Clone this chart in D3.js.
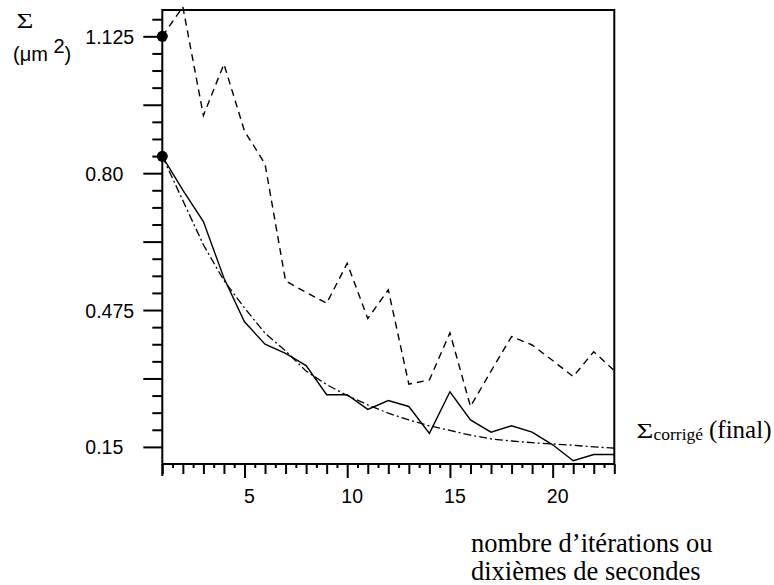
<!DOCTYPE html>
<html><head><meta charset="utf-8">
<script src="https://cdn.jsdelivr.net/npm/d3@7/dist/d3.min.js"></script>
<style>body{margin:0;background:#fff}svg{display:block}</style>
</head><body><svg id="c" width="774" height="585"></svg>
<script>
// ---- data ----
const iterations = [1,2,3,4,5,6,7,8,9,10,11,12,13,14,15,16,17,18,19,20,21,22,23];
const sigmaDashed = [1.125,1.195,0.937,1.059,0.900,0.822,0.544,0.517,0.491,0.586,0.455,0.523,0.299,0.309,0.421,0.246,0.330,0.412,0.392,0.355,0.317,0.376,0.331];
const sigmaSolid  = [0.840,0.760,0.685,0.551,0.447,0.394,0.372,0.343,0.274,0.274,0.239,0.260,0.246,0.182,0.281,0.214,0.185,0.200,0.185,0.155,0.117,0.132,0.132];
const sigmaFit    = [0.840,0.735,0.630,0.545,0.480,0.420,0.378,0.330,0.298,0.272,0.250,0.230,0.214,0.200,0.189,0.178,0.169,0.164,0.160,0.157,0.154,0.150,0.147];
const startDots = [1.125, 0.840];
const yTickValues = [0.15, 0.475, 0.80, 1.125];
const yTickLabels = ["0.15", "0.475", "0.80", "1.125"];
const xTickLabels = [5, 10, 15, 20];

// ---- layout ----
const svg = d3.select("#c");
svg.append("rect").attr("width",774).attr("height",585).attr("fill","#fff");
const x = d3.scaleLinear().domain([1,23]).range([162.3,614.3]);
const y = d3.scaleLinear().domain([0.109375,1.1875]).range([464,10]);
const sans = "'Liberation Sans', Arial, Helvetica, sans-serif";
const serif = "'Liberation Serif', 'Times New Roman', Times, serif";

// y minor / long ticks
const yStep = 0.040625;
const yAll = d3.range(1,27).map(k => 0.109375 + k*yStep);
const isLong = v => Math.abs(((v-0.15)/0.1625) - Math.round((v-0.15)/0.1625)) < 1e-6;
const yMinor = yAll.filter(v => !isLong(v));
const yLong = yAll.filter(v => isLong(v));

function styleAxis(g){
  g.select(".domain").remove();
  g.selectAll(".tick line").attr("stroke","#000").attr("stroke-width",2);
}
svg.append("g").attr("transform","translate(162.3,0)")
  .call(d3.axisLeft(y).tickValues(yMinor).tickSize(10).tickFormat(""))
  .call(styleAxis);
const yMaj = svg.append("g").attr("transform","translate(162.3,0)")
  .call(d3.axisLeft(y).tickValues(yLong).tickSize(19)
    .tickFormat(v => { const i = yTickValues.findIndex(t => Math.abs(t-v)<1e-6); return i>=0 ? yTickLabels[i] : ""; }))
  .call(styleAxis);
yMaj.selectAll("text").attr("x",-77).attr("dy",null).attr("y",7)
  .attr("text-anchor","start").attr("font-family",sans).attr("font-size",19.5).attr("fill","#000");

// x ticks
const xHalf = d3.range(1.5,23,1);
const xInt = iterations.filter(v => v%5 !== 0);
svg.append("g").attr("transform","translate(0,464)")
  .call(d3.axisBottom(x).tickValues(xHalf).tickSize(4).tickFormat("")).call(styleAxis);
svg.append("g").attr("transform","translate(0,464)")
  .call(d3.axisBottom(x).tickValues(xInt).tickSize(10).tickFormat("")).call(styleAxis);
const xMaj = svg.append("g").attr("transform","translate(0,464)")
  .call(d3.axisBottom(x).tickValues(xTickLabels).tickSize(14).tickFormat(d3.format("d")))
  .call(styleAxis);
xMaj.selectAll("text").attr("y",39).attr("dy",null).attr("x",4.5)
  .attr("font-family",sans).attr("font-size",19.5).attr("fill","#000");

// frame
const frame = svg.append("g").attr("stroke","#000").attr("stroke-width",2).attr("fill","none");
frame.append("path").attr("d",`M${x(1)},${y(1.1875)}V464H${x(23)}V${y(1.1875)}Z`).attr("stroke-linecap","square");
frame.append("line").attr("x1",x(1)).attr("x2",x(1)).attr("y1",464).attr("y2",476);

// lines
const line = ys => d3.line().x((d,i)=>x(iterations[i])).y(d=>y(d))(ys);
svg.append("path").attr("d",line(sigmaDashed)).attr("fill","none").attr("stroke","#000")
  .attr("stroke-width",1.4).attr("stroke-dasharray","7,5");
svg.append("path").attr("d",line(sigmaSolid)).attr("fill","none").attr("stroke","#000")
  .attr("stroke-width",1.4);
svg.append("path").attr("d",line(sigmaFit)).attr("fill","none").attr("stroke","#000")
  .attr("stroke-width",1.3).attr("stroke-dasharray","8,3,2,3");

// dots
svg.selectAll("circle.dot").data(startDots).enter().append("circle")
  .attr("cx",x(1)).attr("cy",d=>y(d)).attr("r",5.5).attr("fill","#000");

// labels
svg.append("text").attr("transform","translate(16.5,28) scale(1.45,1)")
  .attr("font-family",serif).attr("font-size",20).text("Σ");
const unit = svg.append("text").attr("x",13).attr("y",61).attr("font-family",sans).attr("font-size",20);
unit.append("tspan").text("(μm ");
unit.append("tspan").attr("dy",-8).text("2");
unit.append("tspan").attr("dy",8).text(")");

svg.append("text").attr("transform","translate(636.5,438) scale(1.45,1)")
  .attr("font-family",serif).attr("font-size",20).text("Σ");
svg.append("text").attr("x",653.5).attr("y",440).attr("font-family",serif).attr("font-size",17.5).text("corrigé");
svg.append("text").attr("x",709).attr("y",438).attr("font-family",serif).attr("font-size",25).text("(final)");

svg.append("text").attr("x",471).attr("y",552).attr("font-family",serif).attr("font-size",26.5).text("nombre d’itérations ou");
svg.append("text").attr("x",471).attr("y",580).attr("font-family",serif).attr("font-size",26.5).text("dixièmes de secondes");
</script></body></html>
